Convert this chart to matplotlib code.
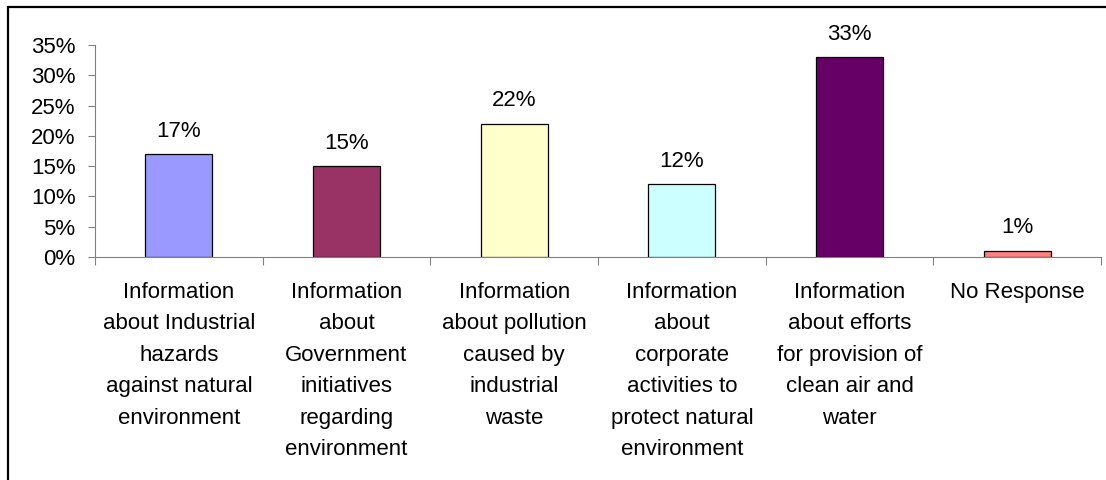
import matplotlib
matplotlib.use('Agg')
import matplotlib.pyplot as plt
from matplotlib.patches import Rectangle
from matplotlib.ticker import FuncFormatter, FixedLocator, NullFormatter

plt.rcParams['font.family'] = ['Liberation Sans', 'DejaVu Sans']

## DATA
categories = [
    'Information\nabout Industrial\nhazards\nagainst natural\nenvironment',
    'Information\nabout\nGovernment\ninitiatives\nregarding\nenvironment',
    'Information\nabout pollution\ncaused by\nindustrial\nwaste',
    'Information\nabout\ncorporate\nactivities to\nprotect natural\nenvironment',
    'Information\nabout efforts\nfor provision of\nclean air and\nwater',
    'No Response',
]
values = [17, 15, 22, 12, 33, 1]
bar_colors = ['#9999FF', '#993366', '#FFFFCC', '#CCFFFF', '#660066', '#FF8080']
y_ticks = [0, 5, 10, 15, 20, 25, 30, 35]

FS = 16

fig = plt.figure(figsize=(11.06, 4.8), dpi=100)
ax = fig.add_axes((95 / 1106, 1 - 257 / 480, 1006 / 1106, 212 / 480))

x = list(range(len(values)))
ax.bar(x, values, width=0.4, color=bar_colors, edgecolor='black', linewidth=0.9, zorder=3)

## value labels above each bar
for xi, v in zip(x, values):
    ax.annotate('{}%'.format(v), (xi, v), xytext=(0, 9), textcoords='offset points',
                ha='center', va='bottom', fontsize=FS)

ax.set_xlim(-0.5, len(values) - 0.5)
ax.set_ylim(0, 35)
ax.set_yticks(y_ticks)
ax.yaxis.set_major_formatter(FuncFormatter(lambda v, p: '{:d}%'.format(int(v))))

## category labels centred, ticks on category boundaries
ax.xaxis.set_major_locator(FixedLocator([i - 0.5 for i in range(len(values) + 1)]))
ax.xaxis.set_major_formatter(NullFormatter())
ax.xaxis.set_minor_locator(FixedLocator(x))
ax.set_xticklabels(categories, minor=True, fontsize=FS, linespacing=1.65, va='top')
ax.tick_params(axis='x', which='minor', length=0, pad=18)
ax.tick_params(axis='x', which='major', length=6, width=0.8, color='#808080', direction='out')
ax.tick_params(axis='y', length=5, width=0.8, color='#808080', labelsize=FS, pad=9)

for side in ['top', 'right']:
    ax.spines[side].set_visible(False)
for side in ['left', 'bottom']:
    ax.spines[side].set_color('#808080')
    ax.spines[side].set_linewidth(0.8)

## outer chart frame, running off the right and bottom edges
fig.patches.append(Rectangle((8 / 1106, -0.2), 1.2, 1.2 - 7 / 480, transform=fig.transFigure,
                             fill=False, edgecolor='black', linewidth=1.6))

fig.savefig('out.png', dpi=100)
